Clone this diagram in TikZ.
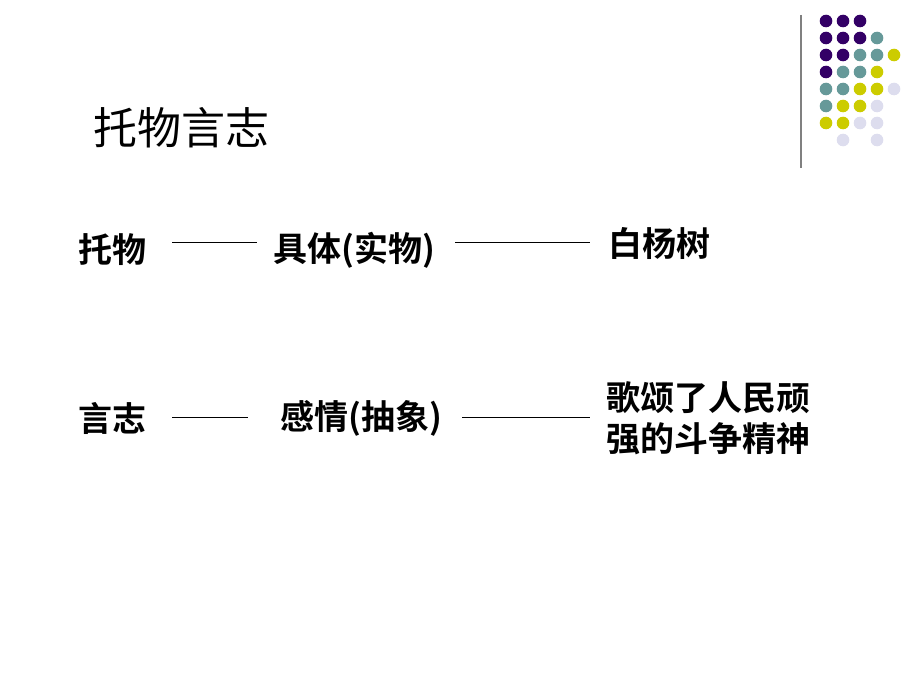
\documentclass[tikz,border=0pt]{standalone}
\usepackage{fontspec}
\setmainfont{Liberation Sans}
\newfontfamily\cjk{Noto Sans CJK SC}[BoldFont={* Bold}]
\definecolor{dotP}{RGB}{51,0,102}
\definecolor{dotT}{RGB}{102,153,153}
\definecolor{dotY}{RGB}{204,204,0}
\definecolor{dotL}{RGB}{221,221,238}
\definecolor{dotN}{RGB}{255,255,255}
\tikzset{
  word/.style={anchor=west,inner sep=0pt,font=\fontsize{34}{41}\selectfont\cjk\bfseries},
  link/.style={black,line width=0.8pt}
}
\begin{document}
\begin{tikzpicture}[x=1pt,y=-1pt]
\useasboundingbox (0,0) rectangle (920,690);

% decoration in the corner
\draw[gray,line width=1.5pt] (801,15) -- (801,168);
\foreach \row/\cols in {0/{P,P,P,N,N},1/{P,P,P,T,N},2/{P,P,T,T,Y},3/{P,T,T,Y,N},
  4/{T,T,Y,Y,L},5/{T,Y,Y,L,N},6/{Y,Y,L,L,N},7/{N,L,N,L,N}}{
  \foreach \c [count=\i from 0] in \cols {
    \fill[dot\c] (826+17*\i,21+17*\row) circle (6.3);
  }
}

\node(title)[word,font=\fontsize{44}{50}\selectfont\cjk] at (93,128) {托物言志};

\node(tuo)[word] at (78,250) {托物};
\node(juti)[word] at (273,250) {具体(实物)};
\node(baiyang)[word] at (608,243) {白杨树};
\draw[link] (172,242) -- (257,242);
\draw[link] (455,242) -- (590,242);

\node(yan)[word] at (78,418) {言志};
\node(qing)[word] at (280,418) {感情(抽象)};
\node(gesong)[word,align=left] at (606,418) {歌颂了人民顽\\强的斗争精神};
\draw[link] (172,417) -- (248,417);
\draw[link] (462,417) -- (590,417);
\end{tikzpicture}
\end{document}
